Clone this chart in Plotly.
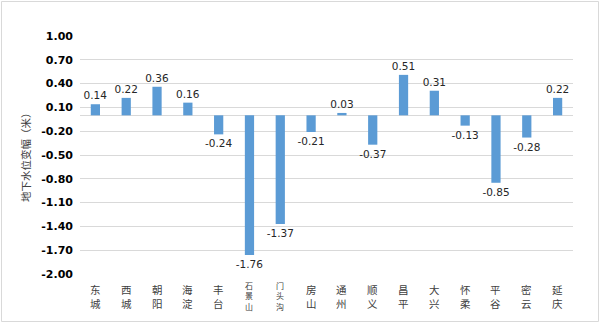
import plotly.graph_objects as go

categories = ["东城", "西城", "朝阳", "海淀", "丰台", "石景山", "门头沟", "房山",
              "通州", "顺义", "昌平", "大兴", "怀柔", "平谷", "密云", "延庆"]
values = [0.14, 0.22, 0.36, 0.16, -0.24, -1.76, -1.37, -0.21,
          0.03, -0.37, 0.51, 0.31, -0.13, -0.85, -0.28, 0.22]
tick_vals = [1.00, 0.70, 0.40, 0.10, -0.20, -0.50, -0.80, -1.10, -1.40, -1.70, -2.00]
tick_text = ["%.2f" % v for v in tick_vals]
value_labels = ["%.2f" % v for v in values]
y_title = "地下水位变幅（米）"

fig = go.Figure()
fig.add_trace(go.Bar(
    x=categories, y=values, width=0.3,
    marker=dict(color="#5B9BD5", line=dict(width=0)),
    text=value_labels, textposition="outside", constraintext="none",
    textfont=dict(family="DejaVu Sans", size=10.5, color="#262626"),
    cliponaxis=False,
))

annotations = []
for cat in categories:
    n = len(cat)
    step = 14 if n == 2 else 10.5
    fsize = 10.5 if n == 2 else 8
    start = 15 if n == 2 else 11
    for i, ch in enumerate(cat):
        annotations.append(dict(
            x=cat, xref="x", y=0, yref="paper", yanchor="middle",
            yshift=-(start + i * step), text=ch, showarrow=False,
            font=dict(family="Noto Sans CJK SC", size=fsize, color="#404040"),
        ))
annotations.append(dict(
    x=(25 - 80) / 493, xref="paper", xanchor="center", y=0.5, yref="paper",
    yanchor="middle", text=y_title, textangle=-90,
    showarrow=False, font=dict(family="Noto Sans CJK SC", size=10.5, color="#404040"),
))

fig.update_layout(
    width=600, height=323,
    margin=dict(l=80, r=27, t=36, b=49),
    paper_bgcolor="white", plot_bgcolor="white",
    showlegend=False,
    annotations=annotations,
    xaxis=dict(showticklabels=False, showgrid=False, showline=False, ticks="",
               type="category"),
    yaxis=dict(range=[-2.0, 1.0], tickvals=tick_vals, ticktext=tick_text,
               showgrid=True, gridcolor="#d9d9d9", gridwidth=1,
               zeroline=True, zerolinecolor="#d9d9d9", zerolinewidth=1,
               showline=False, ticks="", ticklen=0, ticklabelstandoff=6,
               tickfont=dict(family="DejaVu Sans", size=11, color="#000000", weight="bold")),
    shapes=[dict(type="rect", xref="paper", yref="paper",
                 x0=(1.5 - 80) / 493, x1=(598.5 - 80) / 493,
                 y0=(274 - 321.5) / 238, y1=(274 - 1.5) / 238,
                 line=dict(color="#d9d9d9", width=1), fillcolor="rgba(0,0,0,0)",
                 layer="below")],
)

fig.write_html("out.html")
